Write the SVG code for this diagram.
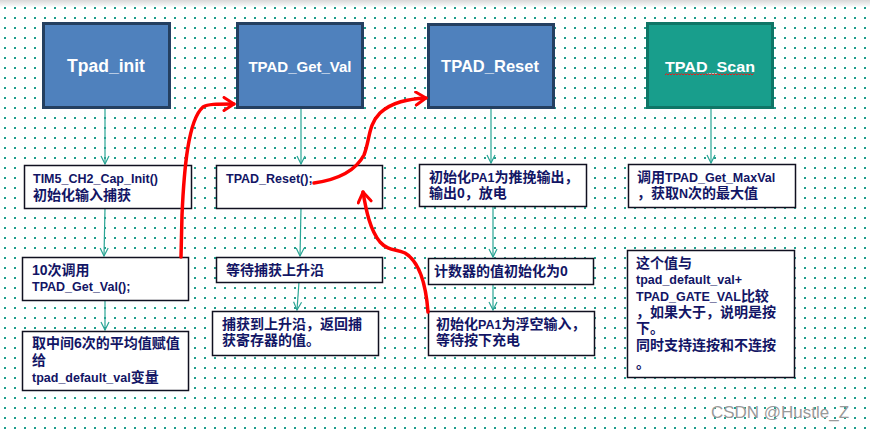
<svg xmlns="http://www.w3.org/2000/svg" width="870" height="431" viewBox="0 0 870 431">
<defs>
<pattern id="dots" x="0" y="0" width="10" height="10" patternUnits="userSpaceOnUse">
<rect x="4" y="7" width="2" height="2" fill="#1f9e8c"/>
<rect x="9" y="12" width="2" height="2" fill="#1f9e8c" opacity="0.85"/>
</pattern>
<linearGradient id="topband" x1="0" y1="0" x2="0" y2="1">
<stop offset="0" stop-color="#d8d8d8"/>
<stop offset="1" stop-color="#ffffff"/>
</linearGradient>
<marker id="tealArrow" viewBox="0 0 10 10" refX="9" refY="5" markerWidth="10" markerHeight="10" markerUnits="userSpaceOnUse" orient="auto">
<path d="M1,1 L9,5 L1,9" fill="none" stroke="#2aa595" stroke-width="1.2"/>
</marker>
<marker id="redArrow" viewBox="0 0 14 16" refX="12" refY="8" markerWidth="14" markerHeight="16" markerUnits="userSpaceOnUse" orient="auto">
<path d="M2,1.5 L12,8 L2,14.5" fill="none" stroke="#ff0000" stroke-width="3" stroke-linecap="round" stroke-linejoin="round"/>
</marker>
</defs>
<style>
.title{fill:#4f81bd;stroke:#243f60;stroke-width:3}
.scan{fill:#189e8c;stroke:#0f7566;stroke-width:3}
.ttl{font-family:"Liberation Sans","Noto Sans CJK SC",sans-serif;font-weight:bold;fill:#ffffff;text-anchor:middle}
.box{fill:#ffffff;stroke:#101020;stroke-width:1.5}
.txt{font-family:"Liberation Sans","Noto Sans CJK SC",sans-serif;font-weight:bold;fill:#121565;font-size:12.5px}
.cjk{font-size:14px}
.conn{stroke:#2aa595;stroke-width:1.2;fill:none}
.red{stroke:#ff0000;stroke-width:3.5;fill:none;stroke-linecap:round}
</style>
<rect width="870" height="431" fill="#ffffff"/>
<rect width="870" height="431" fill="url(#dots)"/>
<rect width="870" height="7" fill="url(#topband)"/>

<g id="connectors">
<line class="conn" x1="105" y1="108" x2="105" y2="164" marker-end="url(#tealArrow)"/>
<line class="conn" x1="105" y1="208" x2="104" y2="256" marker-end="url(#tealArrow)"/>
<line class="conn" x1="105" y1="300" x2="105" y2="330" marker-end="url(#tealArrow)"/>
<line class="conn" x1="301" y1="108" x2="301" y2="164" marker-end="url(#tealArrow)"/>
<line class="conn" x1="301" y1="208" x2="300" y2="256" marker-end="url(#tealArrow)"/>
<line class="conn" x1="299" y1="282" x2="297" y2="310" marker-end="url(#tealArrow)"/>
<line class="conn" x1="491" y1="108" x2="491" y2="163" marker-end="url(#tealArrow)"/>
<line class="conn" x1="493" y1="206" x2="493" y2="257" marker-end="url(#tealArrow)"/>
<line class="conn" x1="493" y1="284" x2="493" y2="310" marker-end="url(#tealArrow)"/>
<line class="conn" x1="711" y1="108" x2="711" y2="163" marker-end="url(#tealArrow)"/>
</g>

<g id="tpad_init">
<rect class="title" x="43.5" y="23.5" width="126" height="84"/>
<text class="ttl" x="106" y="72" font-size="17.5">Tpad_init</text>
</g>
<g id="tpad_get_val">
<rect class="title" x="237.5" y="23.5" width="125" height="84"/>
<text class="ttl" x="300" y="72" font-size="15">TPAD_Get_Val</text>
</g>
<g id="tpad_reset">
<rect class="title" x="428.5" y="24.5" width="125" height="83"/>
<text class="ttl" x="490" y="72" font-size="16.5">TPAD_Reset</text>
</g>
<g id="tpad_scan">
<rect class="scan" x="647.5" y="23.5" width="125" height="84"/>
<text class="ttl" x="710" y="72" font-size="14.5" textLength="90" lengthAdjust="spacingAndGlyphs">TPAD_Scan</text>
<path d="M665,75 l1.5,-1.5 l1.5,1.5 l1.5,-1.5 l1.5,1.5 l1.5,-1.5 l1.5,1.5 l1.5,-1.5 l1.5,1.5 l1.5,-1.5 l1.5,1.5 l1.5,-1.5 l1.5,1.5 l1.5,-1.5 l1.5,1.5 l1.5,-1.5 l1.5,1.5 l1.5,-1.5 l1.5,1.5 l1.5,-1.5 l1.5,1.5 l1.5,-1.5 l1.5,1.5 l1.5,-1.5 l1.5,1.5 l1.5,-1.5 l1.5,1.5 l1.5,-1.5 l1.5,1.5 l1.5,-1.5 l1.5,1.5 l1.5,-1.5 l1.5,1.5 l1.5,-1.5 l1.5,1.5 l1.5,-1.5 l1.5,1.5 l1.5,-1.5 l1.5,1.5 l1.5,-1.5 l1.5,1.5 l1.5,-1.5 l1.5,1.5 l1.5,-1.5 l1.5,1.5 l1.5,-1.5 l1.5,1.5 l1.5,-1.5 l1.5,1.5 l1.5,-1.5 l1.5,1.5 l1.5,-1.5 l1.5,1.5 l1.5,-1.5 l1.5,1.5 l1.5,-1.5 l1.5,1.5 l1.5,-1.5 l1.5,1.5 l1.5,-1.5" fill="none" stroke="#e02020" stroke-width="1"/>
</g>

<g id="n_tim5">
<rect class="box" x="24.5" y="165.5" width="167" height="43"/>
<text class="txt" x="33" y="183">TIM5_CH2_Cap_Init()</text>
<text class="txt cjk" x="33" y="200">初始化输入捕获</text>
</g>
<g id="n_10x">
<rect class="box" x="22.5" y="257.5" width="166" height="43"/>
<text class="txt cjk" x="32" y="275">10次调用</text>
<text class="txt" x="32" y="291">TPAD_Get_Val();</text>
</g>
<g id="n_avg">
<rect class="box" x="22.5" y="331.5" width="166" height="59"/>
<text class="txt cjk" x="32" y="348">取中间6次的平均值赋值</text>
<text class="txt cjk" x="32" y="365">给</text>
<text class="txt" x="32" y="382">tpad_default_val<tspan class="cjk">变量</tspan></text>
</g>

<g id="n_reset_call">
<rect class="box" x="216.5" y="165.5" width="166" height="43"/>
<text class="txt" x="226" y="183">TPAD_Reset();</text>
</g>
<g id="n_wait_rise">
<rect class="box" x="216.5" y="257.5" width="166" height="25"/>
<text class="txt cjk" x="226" y="275">等待捕获上升沿</text>
</g>
<g id="n_captured">
<rect class="box" x="212.5" y="311.5" width="166" height="44"/>
<text class="txt cjk" x="222" y="329">捕获到上升沿，返回捕</text>
<text class="txt cjk" x="222" y="345">获寄存器的值。</text>
</g>

<g id="n_pushpull">
<rect class="box" x="419.5" y="164.5" width="167" height="42"/>
<text class="txt cjk" x="429" y="182">初始化<tspan class="txt">PA1</tspan>为推挽输出，</text>
<text class="txt cjk" x="429" y="198">输出0，放电</text>
</g>
<g id="n_counter">
<rect class="box" x="428.5" y="258.5" width="165" height="26"/>
<text class="txt cjk" x="434" y="276">计数器的值初始化为0</text>
</g>
<g id="n_float">
<rect class="box" x="428.5" y="311.5" width="166" height="44"/>
<text class="txt cjk" x="436" y="329">初始化<tspan class="txt">PA1</tspan>为浮空输入，</text>
<text class="txt cjk" x="436" y="345">等待按下充电</text>
</g>

<g id="n_maxval">
<rect class="box" x="628.5" y="164.5" width="167" height="43"/>
<text class="txt cjk" x="637" y="182">调用<tspan class="txt">TPAD_Get_MaxVal</tspan></text>
<text class="txt cjk" x="637" y="198">，获取<tspan class="txt">N</tspan>次的最大值</text>
</g>
<g id="n_compare">
<rect class="box" x="627.5" y="250.5" width="167" height="127"/>
<text class="txt cjk" x="636" y="268">这个值与</text>
<text class="txt" x="636" y="284">tpad_default_val+</text>
<text class="txt" x="636" y="301">TPAD_GATE_VAL<tspan class="cjk">比较</tspan></text>
<text class="txt cjk" x="636" y="317">，如果大于，说明是按</text>
<text class="txt cjk" x="636" y="333">下。</text>
<text class="txt cjk" x="636" y="350">同时支持连按和不连按</text>
<text class="txt cjk" x="636" y="368">。</text>
</g>

<g id="red_arrows">
<path class="red" d="M181,257 L182,215 C184,170 188,120 203,107 C208,104 215,104 234,104" marker-end="url(#redArrow)"/>
<path class="red" d="M314,183 C335,180 355,172 364,155 C370,140 368,125 380,113 C392,102 408,99 426,98" marker-end="url(#redArrow)"/>
<path class="red" d="M428,312 C426,285 420,262 405,253 C396,249 388,251 380,242 C370,230 366,210 363,192" marker-end="url(#redArrow)"/>
</g>

<text x="780" y="418" font-family="'Liberation Sans',sans-serif" font-size="17" fill="#9a9a9a" text-anchor="middle">CSDN @Hustle_Z</text>
</svg>
